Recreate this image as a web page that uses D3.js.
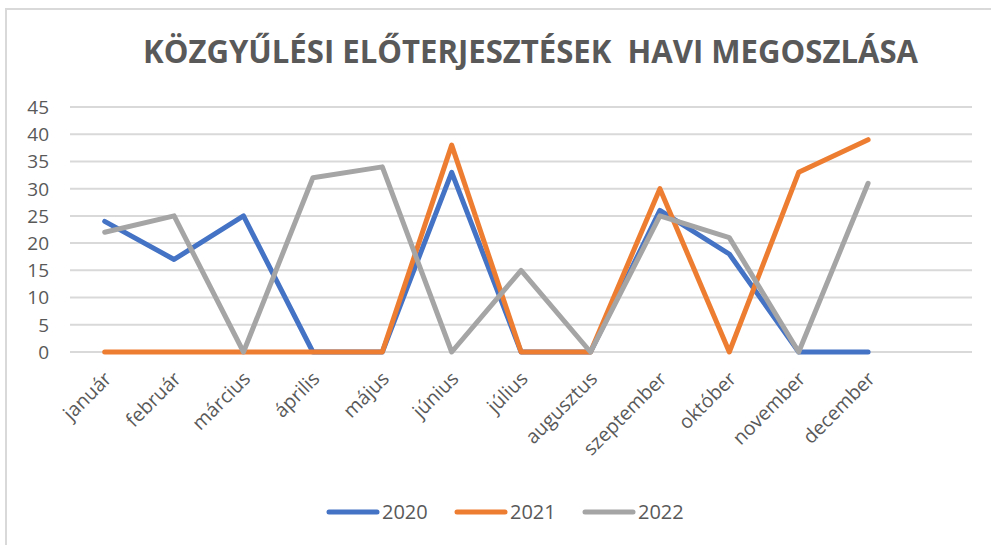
<!DOCTYPE html>
<html>
<head>
<meta charset="utf-8">
<script src="https://cdn.jsdelivr.net/npm/d3@7"></script>
<style>
  body { margin: 0; background: #fff; }
  text { font-family: "Open Sans", "Liberation Sans", sans-serif; fill: #595959; }
</style>
</head>
<body>
<svg width="991" height="545"></svg>
<script>
var months = ["január", "február", "március", "április", "május", "június",
              "július", "augusztus", "szeptember", "október", "november", "december"];
var years = ["2020", "2021", "2022"];
var v2020 = [24, 17, 25, 0, 0, 33, 0, 0, 26, 18, 0, 0];
var v2021 = [0, 0, 0, 0, 0, 38, 0, 0, 30, 0, 33, 39];
var v2022 = [22, 25, 0, 32, 34, 0, 15, 0, 25, 21, 0, 31];
var yTicks = [0, 5, 10, 15, 20, 25, 30, 35, 40, 45];
var colors = ["#4472C4", "#ED7D31", "#A5A5A5"];
var title = "KÖZGYŰLÉSI ELŐTERJESZTÉSEK  HAVI MEGOSZLÁSA";

var svg = d3.select("svg");

// chart frame
svg.append("rect")
    .attr("x", 6).attr("y", 9)
    .attr("width", 1200).attr("height", 800)
    .attr("fill", "none")
    .attr("stroke", "#d9d9d9")
    .attr("stroke-width", 2);

svg.append("text")
    .attr("x", 143).attr("y", 63)
    .attr("textLength", 775)
    .attr("lengthAdjust", "spacingAndGlyphs")
    .style("white-space", "pre")
    .style("font-size", "32px")
    .style("font-weight", "bold")
    .text(title);

var x = d3.scaleBand().domain(months).range([70, 70 + 12 * 69.4]);
var y = d3.scaleLinear().domain([0, 45]).range([352, 107]);

// gridlines
svg.append("g").selectAll("line")
    .data(yTicks)
    .enter().append("line")
    .attr("x1", 70).attr("x2", 972)
    .attr("y1", function(d) { return y(d); })
    .attr("y2", function(d) { return y(d); })
    .attr("stroke", "#d9d9d9")
    .attr("stroke-width", 2);

// y labels
svg.append("g").selectAll("text")
    .data(yTicks)
    .enter().append("text")
    .attr("x", 49)
    .attr("y", function(d) { return y(d); })
    .attr("dy", "0.36em")
    .attr("text-anchor", "end")
    .style("font-size", "19px")
    .text(function(d) { return d; });

// x labels
svg.append("g").selectAll("text")
    .data(months)
    .enter().append("text")
    .attr("text-anchor", "end")
    .attr("transform", function(d) {
        var cx = x(d) + x.bandwidth() / 2 + 8;
        return "translate(" + cx + ",380) rotate(-45)";
    })
    .style("font-size", "19.5px")
    .text(function(d) { return d; });

var series = [v2020, v2021, v2022];

var line = d3.line()
    .x(function(d, i) { return x(months[i]) + x.bandwidth() / 2; })
    .y(function(d) { return y(d); });

svg.append("g").selectAll("path")
    .data(series)
    .enter().append("path")
    .attr("d", line)
    .attr("fill", "none")
    .attr("stroke", function(d, i) { return colors[i]; })
    .attr("stroke-width", 5)
    .attr("stroke-linejoin", "round")
    .attr("stroke-linecap", "round");

// legend
var legend = svg.append("g").selectAll("g")
    .data(years)
    .enter().append("g")
    .attr("transform", function(d, i) { return "translate(" + (329 + i * 128) + ",512)"; });

legend.append("line")
    .attr("x1", 0).attr("x2", 48)
    .attr("stroke", function(d, i) { return colors[i]; })
    .attr("stroke-width", 5)
    .attr("stroke-linecap", "round");

legend.append("text")
    .attr("x", 53)
    .attr("dy", "0.36em")
    .style("font-size", "20px")
    .text(function(d) { return d; });
</script>
</body>
</html>
